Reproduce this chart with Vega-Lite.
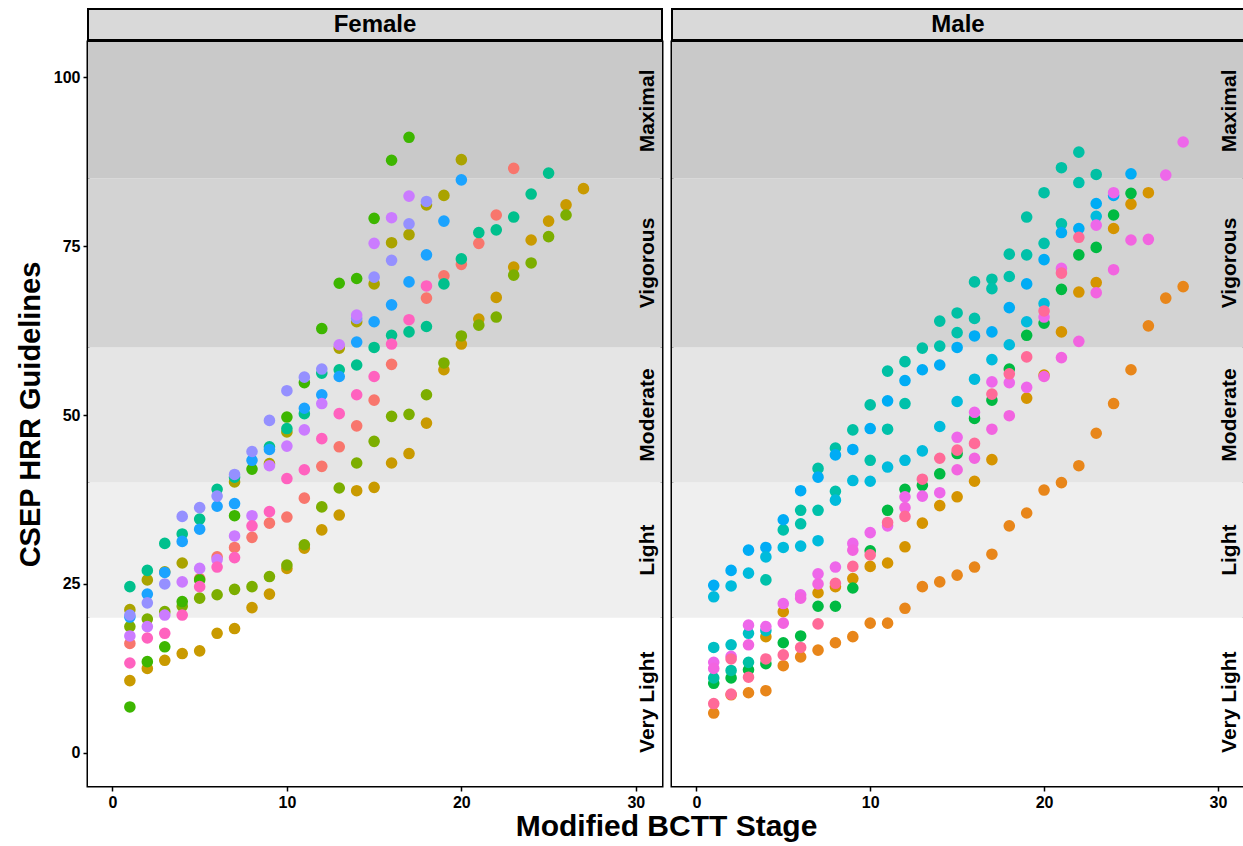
{
"$schema": "https://vega.github.io/schema/vega-lite/v6.json",
"background": "white",
"padding": {"left": 14, "top": 8, "right": 0, "bottom": 0},
"autosize": {"type": "pad"},
"config": {
 "font": "Liberation Sans",
 "view": {"stroke": null},
 "axis": {"domain": false, "grid": false, "ticks": true, "tickColor": "#000", "tickWidth": 1.5, "tickSize": 5, "labelFont": "Liberation Sans", "labelFontSize": 16, "labelFontWeight": "bold", "labelColor": "#000", "labelPadding": 3, "titleFont": "Liberation Sans", "titleFontWeight": "bold", "titleColor": "#000"}
},
"datasets": {
 "bands": [
  {"band": "Very Light", "lo": -4.9, "hi": 20, "mid": 7.5},
  {"band": "Light", "lo": 20, "hi": 40, "mid": 30},
  {"band": "Moderate", "lo": 40, "hi": 60, "mid": 50},
  {"band": "Vigorous", "lo": 60, "hi": 85, "mid": 72.5},
  {"band": "Maximal", "lo": 85, "hi": 105.2, "mid": 95}
 ],
 "pts": [
  {"sex":"Female","id":"F1","stage":1,"hrr":16.2},{"sex":"Female","id":"F1","stage":5,"hrr":25.8},{"sex":"Female","id":"F1","stage":6,"hrr":29.0},{"sex":"Female","id":"F1","stage":7,"hrr":30.4},{"sex":"Female","id":"F1","stage":8,"hrr":31.9},{"sex":"Female","id":"F1","stage":9,"hrr":34.0},{"sex":"Female","id":"F1","stage":10,"hrr":34.9},{"sex":"Female","id":"F1","stage":11,"hrr":37.7},{"sex":"Female","id":"F1","stage":12,"hrr":42.4},{"sex":"Female","id":"F1","stage":13,"hrr":45.3},{"sex":"Female","id":"F1","stage":14,"hrr":48.4},{"sex":"Female","id":"F1","stage":15,"hrr":52.2},{"sex":"Female","id":"F1","stage":16,"hrr":57.5},{"sex":"Female","id":"F1","stage":18,"hrr":67.3},{"sex":"Female","id":"F1","stage":19,"hrr":70.6},{"sex":"Female","id":"F1","stage":20,"hrr":72.3},{"sex":"Female","id":"F1","stage":21,"hrr":75.4},{"sex":"Female","id":"F1","stage":22,"hrr":79.6},{"sex":"Female","id":"F1","stage":23,"hrr":86.5},
  {"sex":"Female","id":"F2","stage":1,"hrr":10.7},{"sex":"Female","id":"F2","stage":2,"hrr":12.5},{"sex":"Female","id":"F2","stage":3,"hrr":13.7},{"sex":"Female","id":"F2","stage":4,"hrr":14.7},{"sex":"Female","id":"F2","stage":5,"hrr":15.1},{"sex":"Female","id":"F2","stage":6,"hrr":17.7},{"sex":"Female","id":"F2","stage":7,"hrr":18.4},{"sex":"Female","id":"F2","stage":8,"hrr":21.5},{"sex":"Female","id":"F2","stage":9,"hrr":23.5},{"sex":"Female","id":"F2","stage":10,"hrr":27.3},{"sex":"Female","id":"F2","stage":11,"hrr":30.3},{"sex":"Female","id":"F2","stage":12,"hrr":33.0},{"sex":"Female","id":"F2","stage":13,"hrr":35.2},{"sex":"Female","id":"F2","stage":14,"hrr":38.8},{"sex":"Female","id":"F2","stage":15,"hrr":39.3},{"sex":"Female","id":"F2","stage":16,"hrr":42.9},{"sex":"Female","id":"F2","stage":17,"hrr":44.3},{"sex":"Female","id":"F2","stage":18,"hrr":48.8},{"sex":"Female","id":"F2","stage":19,"hrr":56.7},{"sex":"Female","id":"F2","stage":20,"hrr":60.5},{"sex":"Female","id":"F2","stage":21,"hrr":64.2},{"sex":"Female","id":"F2","stage":22,"hrr":67.4},{"sex":"Female","id":"F2","stage":23,"hrr":71.9},{"sex":"Female","id":"F2","stage":24,"hrr":75.9},{"sex":"Female","id":"F2","stage":25,"hrr":78.7},{"sex":"Female","id":"F2","stage":26,"hrr":81.1},{"sex":"Female","id":"F2","stage":27,"hrr":83.5},
  {"sex":"Female","id":"F3","stage":1,"hrr":21.2},{"sex":"Female","id":"F3","stage":2,"hrr":25.6},{"sex":"Female","id":"F3","stage":3,"hrr":26.8},{"sex":"Female","id":"F3","stage":4,"hrr":28.1},{"sex":"Female","id":"F3","stage":7,"hrr":40.1},{"sex":"Female","id":"F3","stage":9,"hrr":42.8},{"sex":"Female","id":"F3","stage":10,"hrr":47.5},{"sex":"Female","id":"F3","stage":13,"hrr":59.9},{"sex":"Female","id":"F3","stage":14,"hrr":63.8},{"sex":"Female","id":"F3","stage":15,"hrr":69.4},{"sex":"Female","id":"F3","stage":16,"hrr":75.5},{"sex":"Female","id":"F3","stage":17,"hrr":76.7},{"sex":"Female","id":"F3","stage":18,"hrr":81.1},{"sex":"Female","id":"F3","stage":19,"hrr":82.5},{"sex":"Female","id":"F3","stage":20,"hrr":87.8},
  {"sex":"Female","id":"F4","stage":1,"hrr":18.7},{"sex":"Female","id":"F4","stage":2,"hrr":19.8},{"sex":"Female","id":"F4","stage":3,"hrr":20.9},{"sex":"Female","id":"F4","stage":4,"hrr":21.7},{"sex":"Female","id":"F4","stage":5,"hrr":22.9},{"sex":"Female","id":"F4","stage":6,"hrr":23.4},{"sex":"Female","id":"F4","stage":7,"hrr":24.2},{"sex":"Female","id":"F4","stage":8,"hrr":24.6},{"sex":"Female","id":"F4","stage":9,"hrr":26.1},{"sex":"Female","id":"F4","stage":10,"hrr":27.8},{"sex":"Female","id":"F4","stage":11,"hrr":30.8},{"sex":"Female","id":"F4","stage":12,"hrr":36.4},{"sex":"Female","id":"F4","stage":13,"hrr":39.2},{"sex":"Female","id":"F4","stage":14,"hrr":42.9},{"sex":"Female","id":"F4","stage":15,"hrr":46.1},{"sex":"Female","id":"F4","stage":16,"hrr":49.8},{"sex":"Female","id":"F4","stage":17,"hrr":50.1},{"sex":"Female","id":"F4","stage":18,"hrr":53.0},{"sex":"Female","id":"F4","stage":19,"hrr":57.7},{"sex":"Female","id":"F4","stage":20,"hrr":61.7},{"sex":"Female","id":"F4","stage":21,"hrr":63.3},{"sex":"Female","id":"F4","stage":22,"hrr":64.5},{"sex":"Female","id":"F4","stage":23,"hrr":70.7},{"sex":"Female","id":"F4","stage":24,"hrr":72.5},{"sex":"Female","id":"F4","stage":25,"hrr":76.4},{"sex":"Female","id":"F4","stage":26,"hrr":79.6},
  {"sex":"Female","id":"F5","stage":1,"hrr":6.8},{"sex":"Female","id":"F5","stage":2,"hrr":13.5},{"sex":"Female","id":"F5","stage":3,"hrr":15.7},{"sex":"Female","id":"F5","stage":4,"hrr":22.4},{"sex":"Female","id":"F5","stage":5,"hrr":25.6},{"sex":"Female","id":"F5","stage":7,"hrr":35.1},{"sex":"Female","id":"F5","stage":8,"hrr":42.0},{"sex":"Female","id":"F5","stage":10,"hrr":49.7},{"sex":"Female","id":"F5","stage":11,"hrr":54.8},{"sex":"Female","id":"F5","stage":12,"hrr":62.8},{"sex":"Female","id":"F5","stage":13,"hrr":69.5},{"sex":"Female","id":"F5","stage":14,"hrr":70.2},{"sex":"Female","id":"F5","stage":15,"hrr":79.1},{"sex":"Female","id":"F5","stage":16,"hrr":87.7},{"sex":"Female","id":"F5","stage":17,"hrr":91.1},
  {"sex":"Female","id":"F6","stage":1,"hrr":24.6},{"sex":"Female","id":"F6","stage":2,"hrr":27.0},{"sex":"Female","id":"F6","stage":3,"hrr":31.0},{"sex":"Female","id":"F6","stage":4,"hrr":32.4},{"sex":"Female","id":"F6","stage":5,"hrr":34.6},{"sex":"Female","id":"F6","stage":6,"hrr":39.0},{"sex":"Female","id":"F6","stage":7,"hrr":40.8},{"sex":"Female","id":"F6","stage":9,"hrr":45.3},{"sex":"Female","id":"F6","stage":10,"hrr":48.0},{"sex":"Female","id":"F6","stage":11,"hrr":50.2},{"sex":"Female","id":"F6","stage":12,"hrr":56.2},{"sex":"Female","id":"F6","stage":13,"hrr":56.7},{"sex":"Female","id":"F6","stage":14,"hrr":57.4},{"sex":"Female","id":"F6","stage":15,"hrr":60.0},{"sex":"Female","id":"F6","stage":16,"hrr":61.8},{"sex":"Female","id":"F6","stage":17,"hrr":62.3},{"sex":"Female","id":"F6","stage":18,"hrr":63.1},{"sex":"Female","id":"F6","stage":19,"hrr":69.4},{"sex":"Female","id":"F6","stage":20,"hrr":73.1},{"sex":"Female","id":"F6","stage":21,"hrr":77.0},{"sex":"Female","id":"F6","stage":22,"hrr":77.4},{"sex":"Female","id":"F6","stage":23,"hrr":79.3},{"sex":"Female","id":"F6","stage":24,"hrr":82.7},{"sex":"Female","id":"F6","stage":25,"hrr":85.8},
  {"sex":"Female","id":"F7","stage":1,"hrr":20.1},{"sex":"Female","id":"F7","stage":2,"hrr":23.5},{"sex":"Female","id":"F7","stage":3,"hrr":26.7},{"sex":"Female","id":"F7","stage":4,"hrr":31.3},{"sex":"Female","id":"F7","stage":5,"hrr":33.1},{"sex":"Female","id":"F7","stage":6,"hrr":36.5},{"sex":"Female","id":"F7","stage":7,"hrr":36.9},{"sex":"Female","id":"F7","stage":8,"hrr":43.3},{"sex":"Female","id":"F7","stage":9,"hrr":44.9},{"sex":"Female","id":"F7","stage":11,"hrr":51.0},{"sex":"Female","id":"F7","stage":12,"hrr":53.0},{"sex":"Female","id":"F7","stage":13,"hrr":55.7},{"sex":"Female","id":"F7","stage":14,"hrr":60.8},{"sex":"Female","id":"F7","stage":15,"hrr":63.8},{"sex":"Female","id":"F7","stage":16,"hrr":66.3},{"sex":"Female","id":"F7","stage":17,"hrr":69.7},{"sex":"Female","id":"F7","stage":18,"hrr":73.7},{"sex":"Female","id":"F7","stage":19,"hrr":78.7},{"sex":"Female","id":"F7","stage":20,"hrr":84.8},
  {"sex":"Female","id":"F8","stage":1,"hrr":20.4},{"sex":"Female","id":"F8","stage":2,"hrr":22.2},{"sex":"Female","id":"F8","stage":3,"hrr":25.0},{"sex":"Female","id":"F8","stage":4,"hrr":35.0},{"sex":"Female","id":"F8","stage":5,"hrr":36.3},{"sex":"Female","id":"F8","stage":6,"hrr":38.0},{"sex":"Female","id":"F8","stage":7,"hrr":41.2},{"sex":"Female","id":"F8","stage":8,"hrr":44.6},{"sex":"Female","id":"F8","stage":9,"hrr":49.2},{"sex":"Female","id":"F8","stage":10,"hrr":53.6},{"sex":"Female","id":"F8","stage":11,"hrr":55.6},{"sex":"Female","id":"F8","stage":12,"hrr":56.8},{"sex":"Female","id":"F8","stage":14,"hrr":64.3},{"sex":"Female","id":"F8","stage":15,"hrr":70.4},{"sex":"Female","id":"F8","stage":16,"hrr":72.9},{"sex":"Female","id":"F8","stage":17,"hrr":78.3},{"sex":"Female","id":"F8","stage":18,"hrr":81.6},
  {"sex":"Female","id":"F9","stage":1,"hrr":17.3},{"sex":"Female","id":"F9","stage":2,"hrr":18.7},{"sex":"Female","id":"F9","stage":3,"hrr":20.4},{"sex":"Female","id":"F9","stage":4,"hrr":25.3},{"sex":"Female","id":"F9","stage":5,"hrr":27.3},{"sex":"Female","id":"F9","stage":6,"hrr":28.6},{"sex":"Female","id":"F9","stage":7,"hrr":32.1},{"sex":"Female","id":"F9","stage":8,"hrr":35.1},{"sex":"Female","id":"F9","stage":9,"hrr":42.5},{"sex":"Female","id":"F9","stage":10,"hrr":45.4},{"sex":"Female","id":"F9","stage":11,"hrr":47.8},{"sex":"Female","id":"F9","stage":12,"hrr":51.7},{"sex":"Female","id":"F9","stage":13,"hrr":60.4},{"sex":"Female","id":"F9","stage":14,"hrr":64.8},{"sex":"Female","id":"F9","stage":15,"hrr":75.4},{"sex":"Female","id":"F9","stage":16,"hrr":79.2},{"sex":"Female","id":"F9","stage":17,"hrr":82.4},
  {"sex":"Female","id":"F10","stage":1,"hrr":13.3},{"sex":"Female","id":"F10","stage":2,"hrr":17.0},{"sex":"Female","id":"F10","stage":3,"hrr":17.7},{"sex":"Female","id":"F10","stage":4,"hrr":20.4},{"sex":"Female","id":"F10","stage":5,"hrr":24.6},{"sex":"Female","id":"F10","stage":6,"hrr":27.5},{"sex":"Female","id":"F10","stage":7,"hrr":28.9},{"sex":"Female","id":"F10","stage":8,"hrr":33.6},{"sex":"Female","id":"F10","stage":9,"hrr":35.7},{"sex":"Female","id":"F10","stage":10,"hrr":40.6},{"sex":"Female","id":"F10","stage":11,"hrr":41.9},{"sex":"Female","id":"F10","stage":12,"hrr":46.5},{"sex":"Female","id":"F10","stage":13,"hrr":50.2},{"sex":"Female","id":"F10","stage":14,"hrr":53.0},{"sex":"Female","id":"F10","stage":15,"hrr":55.7},{"sex":"Female","id":"F10","stage":16,"hrr":60.5},{"sex":"Female","id":"F10","stage":17,"hrr":64.1},{"sex":"Female","id":"F10","stage":18,"hrr":69.1},
  {"sex":"Male","id":"M1","stage":1,"hrr":5.9},{"sex":"Male","id":"M1","stage":2,"hrr":8.6},{"sex":"Male","id":"M1","stage":3,"hrr":8.9},{"sex":"Male","id":"M1","stage":4,"hrr":9.2},{"sex":"Male","id":"M1","stage":5,"hrr":12.9},{"sex":"Male","id":"M1","stage":6,"hrr":14.2},{"sex":"Male","id":"M1","stage":7,"hrr":15.2},{"sex":"Male","id":"M1","stage":8,"hrr":16.3},{"sex":"Male","id":"M1","stage":9,"hrr":17.2},{"sex":"Male","id":"M1","stage":10,"hrr":19.2},{"sex":"Male","id":"M1","stage":11,"hrr":19.2},{"sex":"Male","id":"M1","stage":12,"hrr":21.4},{"sex":"Male","id":"M1","stage":13,"hrr":24.6},{"sex":"Male","id":"M1","stage":14,"hrr":25.3},{"sex":"Male","id":"M1","stage":15,"hrr":26.3},{"sex":"Male","id":"M1","stage":16,"hrr":27.5},{"sex":"Male","id":"M1","stage":17,"hrr":29.4},{"sex":"Male","id":"M1","stage":18,"hrr":33.6},{"sex":"Male","id":"M1","stage":19,"hrr":35.5},{"sex":"Male","id":"M1","stage":20,"hrr":38.9},{"sex":"Male","id":"M1","stage":21,"hrr":40.0},{"sex":"Male","id":"M1","stage":22,"hrr":42.5},{"sex":"Male","id":"M1","stage":23,"hrr":47.3},{"sex":"Male","id":"M1","stage":24,"hrr":51.7},{"sex":"Male","id":"M1","stage":25,"hrr":56.7},{"sex":"Male","id":"M1","stage":26,"hrr":63.2},{"sex":"Male","id":"M1","stage":27,"hrr":67.3},{"sex":"Male","id":"M1","stage":28,"hrr":69.0},
  {"sex":"Male","id":"M2","stage":4,"hrr":17.2},{"sex":"Male","id":"M2","stage":5,"hrr":20.9},{"sex":"Male","id":"M2","stage":7,"hrr":23.7},{"sex":"Male","id":"M2","stage":8,"hrr":24.6},{"sex":"Male","id":"M2","stage":9,"hrr":25.8},{"sex":"Male","id":"M2","stage":10,"hrr":27.6},{"sex":"Male","id":"M2","stage":11,"hrr":28.1},{"sex":"Male","id":"M2","stage":12,"hrr":30.5},{"sex":"Male","id":"M2","stage":13,"hrr":34.0},{"sex":"Male","id":"M2","stage":14,"hrr":36.6},{"sex":"Male","id":"M2","stage":15,"hrr":37.9},{"sex":"Male","id":"M2","stage":16,"hrr":40.2},{"sex":"Male","id":"M2","stage":17,"hrr":43.4},{"sex":"Male","id":"M2","stage":19,"hrr":52.5},{"sex":"Male","id":"M2","stage":20,"hrr":55.9},{"sex":"Male","id":"M2","stage":21,"hrr":62.3},{"sex":"Male","id":"M2","stage":22,"hrr":68.2},{"sex":"Male","id":"M2","stage":23,"hrr":69.6},{"sex":"Male","id":"M2","stage":24,"hrr":77.6},{"sex":"Male","id":"M2","stage":25,"hrr":81.2},{"sex":"Male","id":"M2","stage":26,"hrr":82.9},
  {"sex":"Male","id":"M3","stage":1,"hrr":10.3},{"sex":"Male","id":"M3","stage":2,"hrr":11.1},{"sex":"Male","id":"M3","stage":3,"hrr":12.3},{"sex":"Male","id":"M3","stage":4,"hrr":13.2},{"sex":"Male","id":"M3","stage":5,"hrr":16.3},{"sex":"Male","id":"M3","stage":6,"hrr":17.3},{"sex":"Male","id":"M3","stage":7,"hrr":21.7},{"sex":"Male","id":"M3","stage":8,"hrr":21.7},{"sex":"Male","id":"M3","stage":9,"hrr":24.4},{"sex":"Male","id":"M3","stage":10,"hrr":29.9},{"sex":"Male","id":"M3","stage":11,"hrr":35.9},{"sex":"Male","id":"M3","stage":12,"hrr":39.0},{"sex":"Male","id":"M3","stage":13,"hrr":39.6},{"sex":"Male","id":"M3","stage":14,"hrr":41.3},{"sex":"Male","id":"M3","stage":15,"hrr":44.3},{"sex":"Male","id":"M3","stage":16,"hrr":49.5},{"sex":"Male","id":"M3","stage":17,"hrr":52.2},{"sex":"Male","id":"M3","stage":18,"hrr":56.8},{"sex":"Male","id":"M3","stage":19,"hrr":61.8},{"sex":"Male","id":"M3","stage":20,"hrr":63.6},{"sex":"Male","id":"M3","stage":21,"hrr":68.6},{"sex":"Male","id":"M3","stage":22,"hrr":73.7},{"sex":"Male","id":"M3","stage":23,"hrr":74.8},{"sex":"Male","id":"M3","stage":24,"hrr":79.6},{"sex":"Male","id":"M3","stage":25,"hrr":82.8},
  {"sex":"Male","id":"M4","stage":6,"hrr":35.9},{"sex":"Male","id":"M4","stage":7,"hrr":42.1},{"sex":"Male","id":"M4","stage":8,"hrr":45.1},{"sex":"Male","id":"M4","stage":9,"hrr":47.8},{"sex":"Male","id":"M4","stage":10,"hrr":51.5},{"sex":"Male","id":"M4","stage":11,"hrr":56.5},{"sex":"Male","id":"M4","stage":12,"hrr":57.9},{"sex":"Male","id":"M4","stage":13,"hrr":59.9},{"sex":"Male","id":"M4","stage":14,"hrr":63.9},{"sex":"Male","id":"M4","stage":15,"hrr":65.1},{"sex":"Male","id":"M4","stage":16,"hrr":69.7},{"sex":"Male","id":"M4","stage":17,"hrr":70.1},{"sex":"Male","id":"M4","stage":18,"hrr":73.8},{"sex":"Male","id":"M4","stage":19,"hrr":79.3},{"sex":"Male","id":"M4","stage":20,"hrr":82.9},{"sex":"Male","id":"M4","stage":21,"hrr":86.6},{"sex":"Male","id":"M4","stage":22,"hrr":88.9},{"sex":"Male","id":"M4","stage":23,"hrr":85.6},
  {"sex":"Male","id":"M4b","stage":4,"hrr":25.6},{"sex":"Male","id":"M4b","stage":5,"hrr":33.0},{"sex":"Male","id":"M4b","stage":6,"hrr":33.9},{"sex":"Male","id":"M4b","stage":7,"hrr":35.9},{"sex":"Male","id":"M4b","stage":8,"hrr":38.7},{"sex":"Male","id":"M4b","stage":10,"hrr":43.3},{"sex":"Male","id":"M4b","stage":11,"hrr":47.9},{"sex":"Male","id":"M4b","stage":12,"hrr":51.7},{"sex":"Male","id":"M4b","stage":14,"hrr":60.2},{"sex":"Male","id":"M4b","stage":15,"hrr":62.2},{"sex":"Male","id":"M4b","stage":16,"hrr":64.3},{"sex":"Male","id":"M4b","stage":17,"hrr":68.7},{"sex":"Male","id":"M4b","stage":18,"hrr":70.5},{"sex":"Male","id":"M4b","stage":19,"hrr":73.7},{"sex":"Male","id":"M4b","stage":20,"hrr":75.4},{"sex":"Male","id":"M4b","stage":21,"hrr":78.3},{"sex":"Male","id":"M4b","stage":22,"hrr":84.4},
  {"sex":"Male","id":"M4c","stage":1,"hrr":11.1},{"sex":"Male","id":"M4c","stage":2,"hrr":12.2},{"sex":"Male","id":"M4c","stage":3,"hrr":13.4},
  {"sex":"Male","id":"M5","stage":1,"hrr":15.6},{"sex":"Male","id":"M5","stage":2,"hrr":16.0},{"sex":"Male","id":"M5","stage":3,"hrr":17.7},{"sex":"Male","id":"M5","stage":4,"hrr":18.1},
  {"sex":"Male","id":"M6","stage":1,"hrr":24.8},{"sex":"Male","id":"M6","stage":2,"hrr":27.0},{"sex":"Male","id":"M6","stage":3,"hrr":30.0},{"sex":"Male","id":"M6","stage":4,"hrr":30.4},{"sex":"Male","id":"M6","stage":5,"hrr":34.5},{"sex":"Male","id":"M6","stage":6,"hrr":38.8},{"sex":"Male","id":"M6","stage":7,"hrr":40.8},{"sex":"Male","id":"M6","stage":8,"hrr":44.1},{"sex":"Male","id":"M6","stage":9,"hrr":44.9},{"sex":"Male","id":"M6","stage":10,"hrr":48.0},{"sex":"Male","id":"M6","stage":11,"hrr":52.1},{"sex":"Male","id":"M6","stage":12,"hrr":55.1},{"sex":"Male","id":"M6","stage":13,"hrr":56.7},{"sex":"Male","id":"M6","stage":14,"hrr":57.4},{"sex":"Male","id":"M6","stage":15,"hrr":60.0},{"sex":"Male","id":"M6","stage":16,"hrr":61.7},{"sex":"Male","id":"M6","stage":17,"hrr":62.3},{"sex":"Male","id":"M6","stage":18,"hrr":65.9},{"sex":"Male","id":"M6","stage":19,"hrr":69.4},{"sex":"Male","id":"M6","stage":20,"hrr":73.0},{"sex":"Male","id":"M6","stage":21,"hrr":77.0},{"sex":"Male","id":"M6","stage":22,"hrr":77.6},{"sex":"Male","id":"M6","stage":23,"hrr":81.3},{"sex":"Male","id":"M6","stage":24,"hrr":82.5},{"sex":"Male","id":"M6","stage":25,"hrr":85.7},
  {"sex":"Male","id":"M7","stage":1,"hrr":23.1},{"sex":"Male","id":"M7","stage":2,"hrr":24.7},{"sex":"Male","id":"M7","stage":3,"hrr":26.6},{"sex":"Male","id":"M7","stage":4,"hrr":29.0},{"sex":"Male","id":"M7","stage":5,"hrr":30.4},{"sex":"Male","id":"M7","stage":6,"hrr":30.6},{"sex":"Male","id":"M7","stage":7,"hrr":31.4},{"sex":"Male","id":"M7","stage":8,"hrr":37.4},{"sex":"Male","id":"M7","stage":9,"hrr":40.3},{"sex":"Male","id":"M7","stage":10,"hrr":40.2},{"sex":"Male","id":"M7","stage":11,"hrr":42.3},{"sex":"Male","id":"M7","stage":12,"hrr":43.3},{"sex":"Male","id":"M7","stage":13,"hrr":44.7},{"sex":"Male","id":"M7","stage":14,"hrr":48.3},{"sex":"Male","id":"M7","stage":15,"hrr":52.0},{"sex":"Male","id":"M7","stage":16,"hrr":55.3},{"sex":"Male","id":"M7","stage":17,"hrr":58.2},{"sex":"Male","id":"M7","stage":18,"hrr":60.4},{"sex":"Male","id":"M7","stage":19,"hrr":63.8},{"sex":"Male","id":"M7","stage":20,"hrr":66.5},{"sex":"Male","id":"M7","stage":23,"hrr":79.4},
  {"sex":"Male","id":"M8","stage":1,"hrr":13.4},{"sex":"Male","id":"M8","stage":2,"hrr":14.3},{"sex":"Male","id":"M8","stage":3,"hrr":18.9},{"sex":"Male","id":"M8","stage":4,"hrr":18.7},{"sex":"Male","id":"M8","stage":5,"hrr":22.1},{"sex":"Male","id":"M8","stage":6,"hrr":23.4},{"sex":"Male","id":"M8","stage":7,"hrr":26.5},{"sex":"Male","id":"M8","stage":8,"hrr":27.5},{"sex":"Male","id":"M8","stage":9,"hrr":31.0},{"sex":"Male","id":"M8","stage":10,"hrr":32.6},{"sex":"Male","id":"M8","stage":11,"hrr":33.6},{"sex":"Male","id":"M8","stage":12,"hrr":37.9},{"sex":"Male","id":"M8","stage":13,"hrr":38.0},{"sex":"Male","id":"M8","stage":14,"hrr":38.5},{"sex":"Male","id":"M8","stage":15,"hrr":46.7},{"sex":"Male","id":"M8","stage":16,"hrr":50.4},{"sex":"Male","id":"M8","stage":17,"hrr":54.9},{"sex":"Male","id":"M8","stage":18,"hrr":54.8},{"sex":"Male","id":"M8","stage":19,"hrr":54.1},{"sex":"Male","id":"M8","stage":20,"hrr":64.5},{"sex":"Male","id":"M8","stage":21,"hrr":71.7},{"sex":"Male","id":"M8","stage":23,"hrr":78.1},{"sex":"Male","id":"M8","stage":24,"hrr":82.9},{"sex":"Male","id":"M8","stage":27,"hrr":85.5},{"sex":"Male","id":"M8","stage":28,"hrr":90.4},
  {"sex":"Male","id":"M8b","stage":1,"hrr":12.5},{"sex":"Male","id":"M8b","stage":3,"hrr":16.0},{"sex":"Male","id":"M8b","stage":5,"hrr":19.2},{"sex":"Male","id":"M8b","stage":6,"hrr":22.9},{"sex":"Male","id":"M8b","stage":7,"hrr":25.0},{"sex":"Male","id":"M8b","stage":9,"hrr":30.0},{"sex":"Male","id":"M8b","stage":12,"hrr":36.3},{"sex":"Male","id":"M8b","stage":15,"hrr":41.9},{"sex":"Male","id":"M8b","stage":16,"hrr":43.6},{"sex":"Male","id":"M8b","stage":17,"hrr":47.9},{"sex":"Male","id":"M8b","stage":18,"hrr":49.9},{"sex":"Male","id":"M8b","stage":20,"hrr":55.7},{"sex":"Male","id":"M8b","stage":21,"hrr":58.5},{"sex":"Male","id":"M8b","stage":22,"hrr":60.9},{"sex":"Male","id":"M8b","stage":23,"hrr":68.1},{"sex":"Male","id":"M8b","stage":24,"hrr":71.5},{"sex":"Male","id":"M8b","stage":25,"hrr":75.9},{"sex":"Male","id":"M8b","stage":26,"hrr":76.0},
  {"sex":"Male","id":"M9","stage":1,"hrr":7.3},{"sex":"Male","id":"M9","stage":2,"hrr":8.7},{"sex":"Male","id":"M9","stage":3,"hrr":11.2},{"sex":"Male","id":"M9","stage":4,"hrr":13.9},{"sex":"Male","id":"M9","stage":5,"hrr":14.5},{"sex":"Male","id":"M9","stage":6,"hrr":15.6},{"sex":"Male","id":"M9","stage":7,"hrr":19.1},{"sex":"Male","id":"M9","stage":8,"hrr":25.1},{"sex":"Male","id":"M9","stage":9,"hrr":27.6},{"sex":"Male","id":"M9","stage":10,"hrr":29.3},{"sex":"Male","id":"M9","stage":11,"hrr":34.1},{"sex":"Male","id":"M9","stage":12,"hrr":35.0},{"sex":"Male","id":"M9","stage":13,"hrr":40.5},{"sex":"Male","id":"M9","stage":14,"hrr":43.6},{"sex":"Male","id":"M9","stage":15,"hrr":44.8},{"sex":"Male","id":"M9","stage":16,"hrr":45.8},{"sex":"Male","id":"M9","stage":17,"hrr":53.1},{"sex":"Male","id":"M9","stage":18,"hrr":56.1},{"sex":"Male","id":"M9","stage":19,"hrr":58.6},{"sex":"Male","id":"M9","stage":20,"hrr":65.4},{"sex":"Male","id":"M9","stage":21,"hrr":71.0},{"sex":"Male","id":"M9","stage":22,"hrr":76.3},
  {"sex":"Male","id":"M9b","stage":2,"hrr":13.9}
 ]
},
"columns": 2,
"bounds": "flush",
"spacing": {"row": 2, "column": 10},
"concat": [
 {
  "width": 574, "height": 31,
  "view": {"fill": "#D9D9D9", "stroke": "black", "strokeWidth": 2},
  "data": {"name": "pts"},
  "transform": [{"filter": "datum.sex === 'Female'"}, {"aggregate": [{"op": "count", "as": "n"}], "groupby": ["sex"]}],
  "mark": {"type": "text", "fontSize": 24, "fontWeight": "bold", "color": "black", "font": "Liberation Sans"},
  "encoding": {"text": {"field": "sex", "type": "nominal"}}
 },
 {
  "width": 572, "height": 31,
  "view": {"fill": "#D9D9D9", "stroke": "black", "strokeWidth": 2},
  "data": {"name": "pts"},
  "transform": [{"filter": "datum.sex === 'Male'"}, {"aggregate": [{"op": "count", "as": "n"}], "groupby": ["sex"]}],
  "mark": {"type": "text", "fontSize": 24, "fontWeight": "bold", "color": "black", "font": "Liberation Sans"},
  "encoding": {"text": {"field": "sex", "type": "nominal"}}
 },
 {
  "width": 574, "height": 744,
  "view": {"fill": "white", "stroke": "black", "strokeWidth": 3},
  "layer": [
   {
    "data": {"name": "bands"},
    "mark": {"type": "rect", "clip": true},
    "encoding": {
     "y": {"field": "lo", "type": "quantitative", "scale": {"domain": [-4.9, 105.2], "nice": false, "zero": false}, "axis": {"values": [0, 25, 50, 75, 100], "title": "CSEP HRR Guidelines", "titleFontSize": 29, "titlePadding": 8}},
     "y2": {"field": "hi"},
     "fill": {"field": "band", "type": "nominal", "scale": {"domain": ["Very Light", "Light", "Moderate", "Vigorous", "Maximal"], "range": ["#FFFFFF", "#EFEFEF", "#E5E5E5", "#D3D3D3", "#C9C9C9"]}, "legend": null}
    }
   },
   {
    "data": {"name": "bands"},
    "mark": {"type": "text", "angle": 270, "fontSize": 21, "fontWeight": "bold", "color": "black", "align": "center", "baseline": "middle", "font": "Liberation Sans"},
    "encoding": {
     "x": {"datum": 30.7, "type": "quantitative", "scale": {"domain": [-1.4, 31.5], "nice": false, "zero": false}, "axis": {"values": [0, 10, 20, 30], "title": null}},
     "y": {"field": "mid", "type": "quantitative"},
     "text": {"field": "band", "type": "nominal"}
    }
   },
   {
    "data": {"name": "pts"},
    "transform": [{"filter": "datum.sex === 'Female'"}],
    "mark": {"type": "circle", "size": 135, "opacity": 1},
    "encoding": {
     "x": {"field": "stage", "type": "quantitative"},
     "y": {"field": "hrr", "type": "quantitative"},
     "color": {"field": "id", "type": "nominal", "legend": null, "scale": {
      "domain": ["F1","F2","F3","F4","F5","F6","F7","F8","F9","F10","M1","M2","M3","M4","M4b","M4c","M5","M6","M7","M8","M8b","M9","M9b"],
      "range": ["#F8766D","#C99A00","#AAA300","#7CAE00","#3DB600","#00C08D","#1BA3FF","#9590FF","#CB7BFF","#FF62BF","#E8861A","#D59400","#00BA42","#00C0A4","#00C1AA","#00C0A4","#00BFC4","#00ACF5","#00BBDC","#EE67EA","#F264E0","#FF6A98","#FF6A98"]}}
    }
   }
  ]
 },
 {
  "width": 572, "height": 744,
  "view": {"fill": "white", "stroke": "black", "strokeWidth": 3},
  "layer": [
   {
    "data": {"name": "bands"},
    "mark": {"type": "rect", "clip": true},
    "encoding": {
     "y": {"field": "lo", "type": "quantitative", "scale": {"domain": [-4.9, 105.2], "nice": false, "zero": false}, "axis": null},
     "y2": {"field": "hi"},
     "fill": {"field": "band", "type": "nominal", "scale": {"domain": ["Very Light", "Light", "Moderate", "Vigorous", "Maximal"], "range": ["#FFFFFF", "#EFEFEF", "#E5E5E5", "#D3D3D3", "#C9C9C9"]}, "legend": null}
    }
   },
   {
    "data": {"name": "bands"},
    "mark": {"type": "text", "angle": 270, "fontSize": 21, "fontWeight": "bold", "color": "black", "align": "center", "baseline": "middle", "font": "Liberation Sans"},
    "encoding": {
     "x": {"datum": 30.7, "type": "quantitative", "scale": {"domain": [-1.4, 31.5], "nice": false, "zero": false}, "axis": {"values": [0, 10, 20, 30], "title": "Modified BCTT Stage", "titleFontSize": 30, "titleX": -6, "titleAlign": "center", "titlePadding": 1}},
     "y": {"field": "mid", "type": "quantitative"},
     "text": {"field": "band", "type": "nominal"}
    }
   },
   {
    "data": {"name": "pts"},
    "transform": [{"filter": "datum.sex === 'Male'"}],
    "mark": {"type": "circle", "size": 135, "opacity": 1},
    "encoding": {
     "x": {"field": "stage", "type": "quantitative"},
     "y": {"field": "hrr", "type": "quantitative"},
     "color": {"field": "id", "type": "nominal", "legend": null, "scale": {
      "domain": ["F1","F2","F3","F4","F5","F6","F7","F8","F9","F10","M1","M2","M3","M4","M4b","M4c","M5","M6","M7","M8","M8b","M9","M9b"],
      "range": ["#F8766D","#C99A00","#AAA300","#7CAE00","#3DB600","#00C08D","#1BA3FF","#9590FF","#CB7BFF","#FF62BF","#E8861A","#D59400","#00BA42","#00C0A4","#00C1AA","#00C0A4","#00BFC4","#00ACF5","#00BBDC","#EE67EA","#F264E0","#FF6A98","#FF6A98"]}}
    }
   }
  ]
 }
]
}
